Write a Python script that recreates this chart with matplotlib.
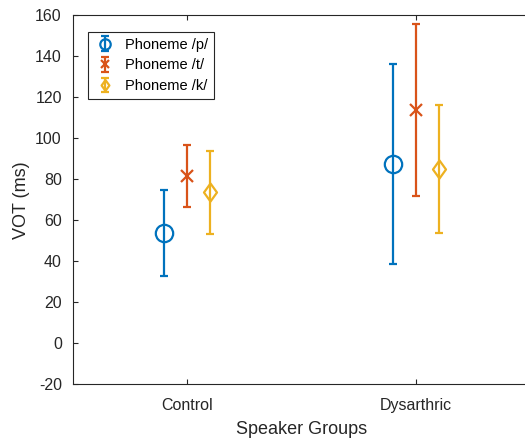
import numpy as np
import matplotlib
matplotlib.use('Agg')
import matplotlib.pyplot as plt
from matplotlib.path import Path

plt.rcParams['font.family'] = ['Liberation Sans', 'DejaVu Sans']
plt.rcParams['axes.unicode_minus'] = False

# mean VOT and error (ms) per speaker group
groups = ['Control', 'Dysarthric']
vot_p = [53.7, 87.4]
err_p = [21.0, 48.7]
vot_t = [81.7, 114.0]
err_t = [15.1, 42.0]
vot_k = [73.7, 85.1]
err_k = [20.2, 31.4]

blue = '#0072BD'
red = '#D95319'
yellow = '#EDB120'
axcol = '#262626'

diamond = Path([(0, 1), (0.72, 0), (0, -1), (-0.72, 0), (0, 1)],
               [Path.MOVETO, Path.LINETO, Path.LINETO, Path.LINETO, Path.CLOSEPOLY])

fig = plt.figure(figsize=(5.25, 4.41), dpi=100)
ax = fig.add_axes([0.139, 0.129, 0.8705, 0.836])

x = np.arange(1, len(groups) + 1)
kw = dict(linestyle='none', elinewidth=1.6, capsize=3.2, capthick=1.6,
          markerfacecolor='none', markeredgewidth=1.6)
ax.errorbar(x - 0.1, vot_p, yerr=err_p, color=blue, marker='o',
            markersize=12.5, label='Phoneme /p/', **kw)
ax.errorbar(x, vot_t, yerr=err_t, color=red, marker='x',
            markersize=9, label='Phoneme /t/', **kw)
ax.errorbar(x + 0.1, vot_k, yerr=err_k, color=yellow, marker=diamond,
            markersize=13, label='Phoneme /k/', **kw)

ax.set_xlim(0.5, 2.5)
ax.set_ylim(-20, 160)
ax.set_xticks(x)
ax.set_xticklabels(groups)
ax.set_yticks(np.arange(-20, 161, 20))
ax.tick_params(direction='in', length=3.6, width=0.8, colors=axcol,
               labelsize=11.5, top=True, right=False)
ax.tick_params(axis='x', pad=10)
ax.tick_params(axis='y', pad=8)
for s in ax.spines.values():
    s.set_color(axcol)
    s.set_linewidth(0.8)
ax.spines['right'].set_visible(False)

ax.set_xlabel('Speaker Groups', fontsize=13, color=axcol, labelpad=6)
ax.set_ylabel('VOT (ms)', fontsize=13, color=axcol, labelpad=4)

leg = ax.legend(loc='upper left', bbox_to_anchor=(0.016, 0.975), fontsize=10.5,
                fancybox=False, edgecolor=axcol, framealpha=1,
                handlelength=1.6, handletextpad=0.6, borderpad=0.4,
                labelspacing=0.45, markerscale=0.6)
leg.get_frame().set_linewidth(0.8)

fig.savefig('out.png', dpi=100)
